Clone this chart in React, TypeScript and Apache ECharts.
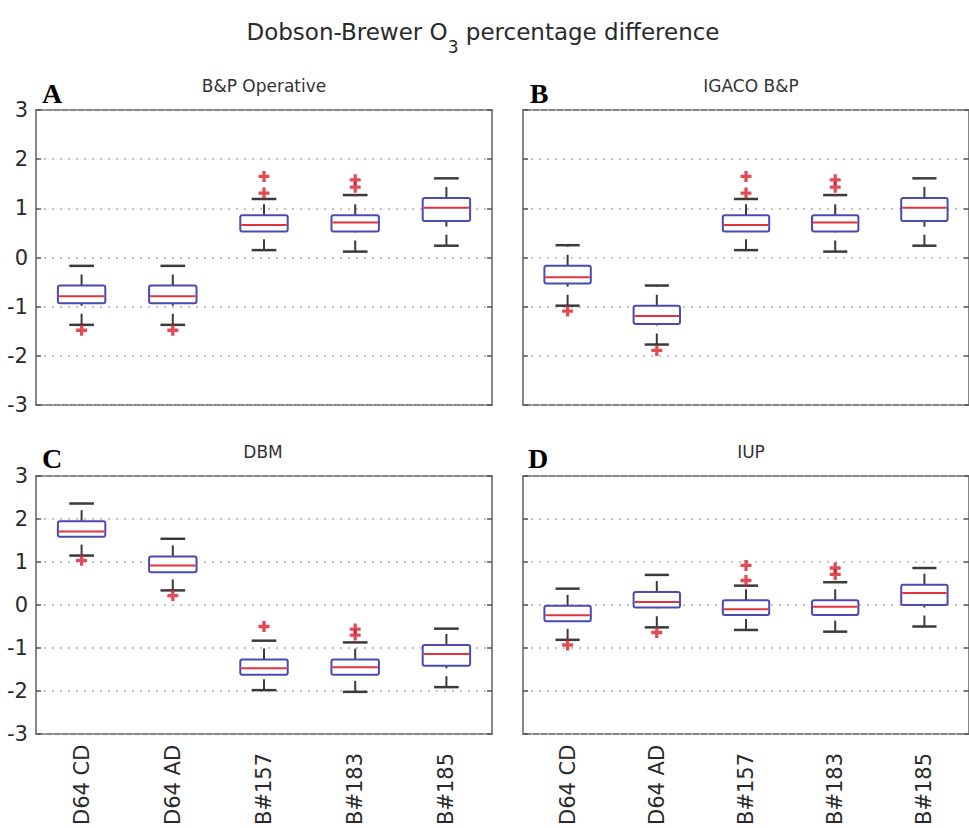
import React, { useEffect, useRef } from "react";
import * as echarts from "echarts";

const categories = ["D64 CD", "D64 AD", "B#157", "B#183", "B#185"];
const panelTitles = ["B&P Operative", "IGACO B&P", "DBM", "IUP"];
const panelLetters = ["A", "B", "C", "D"];
const chartTitleMain = "Dobson-Brewer O";
const chartTitleSub = "3";
const chartTitleRest = " percentage difference";

// each box: [lower whisker, q1, median, q3, upper whisker]
const boxA = [
  [-1.37, -0.93, -0.79, -0.57, -0.17],
  [-1.37, -0.93, -0.79, -0.57, -0.17],
  [0.15, 0.53, 0.66, 0.86, 1.19],
  [0.12, 0.53, 0.71, 0.86, 1.27],
  [0.24, 0.74, 1.01, 1.21, 1.61],
];
const boxB = [
  [-0.98, -0.53, -0.4, -0.17, 0.25],
  [-1.77, -1.35, -1.19, -0.98, -0.57],
  [0.15, 0.53, 0.66, 0.86, 1.19],
  [0.12, 0.53, 0.71, 0.86, 1.27],
  [0.24, 0.74, 1.01, 1.21, 1.61],
];
const boxC = [
  [1.15, 1.59, 1.71, 1.95, 2.36],
  [0.34, 0.76, 0.92, 1.13, 1.54],
  [-1.98, -1.62, -1.47, -1.27, -0.83],
  [-2.02, -1.62, -1.45, -1.27, -0.87],
  [-1.91, -1.41, -1.14, -0.93, -0.55],
];
const boxD = [
  [-0.81, -0.38, -0.24, -0.02, 0.38],
  [-0.52, -0.06, 0.07, 0.3, 0.7],
  [-0.58, -0.23, -0.1, 0.11, 0.45],
  [-0.62, -0.23, -0.04, 0.11, 0.53],
  [-0.5, 0.0, 0.28, 0.47, 0.86],
];

// outliers: [category index, value]
const outA = [[0, -1.48], [1, -1.48], [2, 1.65], [2, 1.31], [3, 1.58], [3, 1.43]];
const outB = [[0, -1.09], [1, -1.89], [2, 1.65], [2, 1.31], [3, 1.58], [3, 1.43]];
const outC = [[0, 1.04], [1, 0.22], [2, -0.5], [3, -0.56], [3, -0.7]];
const outD = [[0, -0.93], [1, -0.64], [2, 0.92], [2, 0.57], [3, 0.86], [3, 0.71]];

const boxes = [boxA, boxB, boxC, boxD];
const outliers = [outA, outB, outC, outD];

const FONT = "DejaVu Sans";
const grids = [
  { left: 36, top: 110, width: 456, height: 295 },
  { left: 523, top: 110, width: 456, height: 295 },
  { left: 36, top: 476, width: 456, height: 260 },
  { left: 523, top: 476, width: 456, height: 260 },
];

const PLUS = "path://M3.5,0H6.5V3.5H10V6.5H6.5V10H3.5V6.5H0V3.5H3.5Z";

function renderBox(params: any, api: any) {
  const i = api.value(0);
  const lo = api.coord([i, api.value(1)]);
  const q1 = api.coord([i, api.value(2)])[1];
  const med = api.coord([i, api.value(3)])[1];
  const q3 = api.coord([i, api.value(4)])[1];
  const hi = api.coord([i, api.value(5)])[1];
  const cx = lo[0];
  const yLo = lo[1];
  const bw = api.size([1, 0])[0] * 0.52;
  const cw = bw * 0.52;
  const dash = [11, 8];
  const wStyle = { stroke: "#3a3a3a", lineWidth: 2, lineDash: dash };
  const cStyle = { stroke: "#3a3a3a", lineWidth: 2.5 };
  return {
    type: "group",
    children: [
      { type: "line", shape: { x1: cx, y1: yLo, x2: cx, y2: q1 }, style: wStyle },
      { type: "line", shape: { x1: cx, y1: q3, x2: cx, y2: hi }, style: wStyle },
      { type: "line", shape: { x1: cx - cw / 2, y1: yLo, x2: cx + cw / 2, y2: yLo }, style: cStyle },
      { type: "line", shape: { x1: cx - cw / 2, y1: hi, x2: cx + cw / 2, y2: hi }, style: cStyle },
      {
        type: "rect",
        shape: { x: cx - bw / 2, y: q3, width: bw, height: q1 - q3, r: 2 },
        style: { fill: "#ffffff", stroke: "#4a4ab2", lineWidth: 2 },
      },
      {
        type: "line",
        shape: { x1: cx - bw / 2 + 1, y1: med, x2: cx + bw / 2 - 1, y2: med },
        style: { stroke: "#e0353d", lineWidth: 2 },
      },
    ],
  };
}

export default function App() {
  const ref = useRef<HTMLDivElement>(null);
  useEffect(() => {
    if (!ref.current) return;
    const chart = echarts.init(ref.current, undefined, { renderer: "svg" });
    const gridOpts = grids.map((g) => ({
      ...g,
      show: true,
      borderColor: "#878787",
      borderWidth: 2,
      backgroundColor: "#ffffff",
      containLabel: false,
    }));
    const xAxes = grids.map((_, k) => ({
      type: "category",
      gridIndex: k,
      data: categories,
      boundaryGap: true,
      axisLine: { show: false },
      axisTick: { show: false },
      splitLine: { show: false },
      axisLabel: {
        show: k >= 2,
        rotate: 90,
        align: "left",
        verticalAlign: "middle",
        margin: 91,
        fontSize: 21,
        fontFamily: FONT,
        color: "#2a2a2a",
        interval: 0,
      },
    }));
    const yLeft = grids.map((_, k) => ({
      type: "value",
      gridIndex: k,
      min: -3,
      max: 3,
      interval: 1,
      position: "left",
      axisLine: { show: false },
      axisTick: { show: true, inside: true, length: 5, lineStyle: { color: "#555", width: 1.5 } },
      splitLine: { show: true, lineStyle: { color: "#b0b0b0", width: 1.5, type: [2, 6] } },
      axisLabel: {
        show: k % 2 === 0,
        fontSize: 21,
        fontFamily: FONT,
        color: "#2a2a2a",
        margin: 8,
      },
    }));
    const yRight = grids.map((_, k) => ({
      type: "value",
      gridIndex: k,
      min: -3,
      max: 3,
      interval: 1,
      position: "right",
      axisLine: { show: false },
      axisTick: { show: true, inside: true, length: 5, lineStyle: { color: "#555", width: 1.5 } },
      splitLine: { show: false },
      axisLabel: { show: false },
    }));
    const series: any[] = [];
    grids.forEach((_, k) => {
      series.push({
        type: "custom",
        xAxisIndex: k,
        yAxisIndex: k,
        renderItem: renderBox,
        encode: { x: 0, y: [1, 2, 3, 4, 5] },
        data: boxes[k].map((b, i) => [i, ...b]),
        z: 3,
        clip: false,
      });
      series.push({
        type: "scatter",
        xAxisIndex: k,
        yAxisIndex: k,
        symbol: PLUS,
        symbolSize: 11,
        itemStyle: { color: "#d8202a" },
        data: outliers[k],
        z: 4,
      });
    });
    const titlePos = [
      [264, 86],
      [751, 86],
      [263, 452],
      [751, 452],
    ];
    const letterPos = [
      [52, 93],
      [539, 93],
      [52, 458],
      [538, 458],
    ];
    const graphics: any[] = [
      {
        type: "text",
        x: 483,
        y: 32,
        style: {
          text: `{m|${chartTitleMain}}{s|${chartTitleSub}}{m|${chartTitleRest}}`,
          align: "center",
          verticalAlign: "middle",
          rich: {
            m: { fontSize: 23, fontFamily: FONT, fill: "#2a2a2a", lineHeight: 26 },
            s: { fontSize: 17, fontFamily: FONT, fill: "#2a2a2a", lineHeight: 17, padding: [30, 0, 0, 0] },
          },
        },
      },
    ];
    panelTitles.forEach((t, k) => {
      graphics.push({
        type: "text",
        x: titlePos[k][0],
        y: titlePos[k][1],
        style: {
          text: t,
          fontSize: 17,
          fontFamily: FONT,
          fill: "#333",
          align: "center",
          verticalAlign: "middle",
        },
      });
      graphics.push({
        type: "text",
        x: letterPos[k][0],
        y: letterPos[k][1],
        style: {
          text: panelLetters[k],
          fontSize: 28,
          fontWeight: "bold",
          fontFamily: "Liberation Serif",
          fill: "#000",
          align: "center",
          verticalAlign: "middle",
        },
      });
    });
    chart.setOption({
      animation: false,
      backgroundColor: "#ffffff",
      grid: gridOpts,
      xAxis: xAxes,
      yAxis: [...yLeft, ...yRight],
      series,
      graphic: graphics,
    });
    return () => chart.dispose();
  }, []);
  return (
    <div
      ref={ref}
      style={{ position: "absolute", left: 0, top: 0, width: 969, height: 828 }}
    />
  );
}
